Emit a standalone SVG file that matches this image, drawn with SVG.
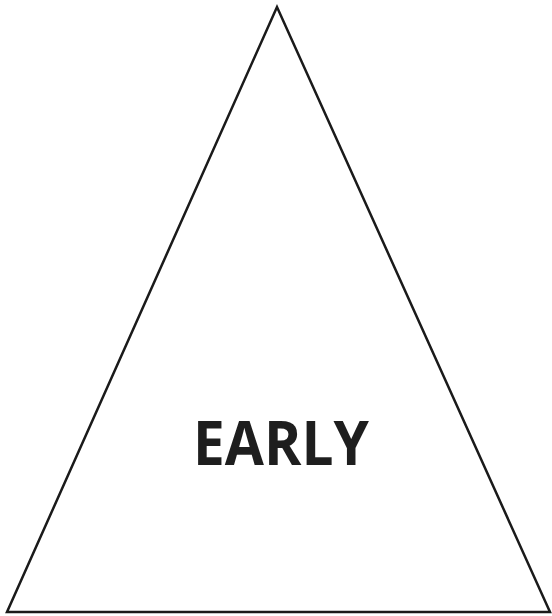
<svg xmlns="http://www.w3.org/2000/svg" width="552" height="616" viewBox="0 0 552 616">
<style>
.tri{fill:none;stroke:#1a1a1a;stroke-width:2.5;stroke-linejoin:miter}
.lbl{font-family:"Open Sans","Liberation Sans",sans-serif;font-weight:bold;font-size:60px;fill:#1e1e1e}
</style>
<rect width="552" height="616" fill="#ffffff"/>
<g id="triangle">
<polygon class="tri" points="277,7 7,612 550,612"/>
<text class="lbl" x="281" y="465" text-anchor="middle" textLength="176" lengthAdjust="spacingAndGlyphs">EARLY</text>
</g>
</svg>
